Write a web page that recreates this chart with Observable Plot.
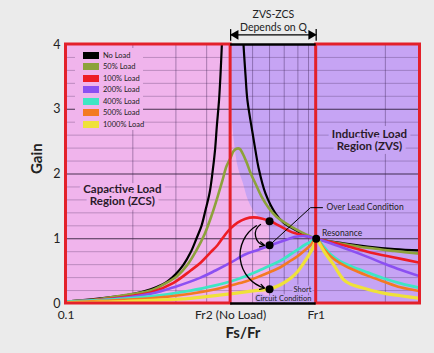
<!DOCTYPE html>
<html><head><meta charset="utf-8">
<script src="https://cdn.jsdelivr.net/npm/d3@7"></script>
<script src="https://cdn.jsdelivr.net/npm/@observablehq/plot@0.6"></script>
<style>
body{margin:0;background:#ebebeb;font-family:Lato,sans-serif;}
#wrap{position:relative;width:434px;height:353px;}
#legend{position:absolute;left:75px;top:48px;width:68px;height:82px;background:#f0b4ec;}
.row{position:absolute;left:8px;height:8px;display:flex;align-items:center;font-size:7.5px;color:#222;white-space:nowrap;}
.sw{width:16px;height:7px;margin-right:4px;}
</style></head><body><div id="wrap"></div>
<script>
// ---- data ----
const seriesNames = ["No Load","50% Load","100% Load","200% Load","400% Load","500% Load","1000% Load"];
const seriesColors = ["#000000","#8da23b","#ee1d25","#8b50f2","#3ee6c4","#f37a22","#efe13a"];
const seriesWidths = [2.2,2.6,2.6,2.6,2.8,2.6,3.2];

const noLoad = [[0.1,0.03],[0.137,0.08],[0.186,0.15],[0.218,0.22],[0.25,0.32],[0.274,0.45],[0.295,0.60],[0.315,0.79],[0.332,1.00],[0.348,1.20],[0.361,1.44],[0.375,1.71],[0.385,2.02],[0.394,2.36],[0.401,2.75],[0.409,3.14],[0.415,3.57],[0.42,4.02],[0.424,4.3],[0.46,NaN],[0.51,4.22],[0.512,4.02],[0.522,3.52],[0.531,3.14],[0.557,2.63],[0.572,2.36],[0.588,2.10],[0.627,1.70],[0.688,1.39],[0.74,1.25],[0.804,1.16],[0.89,1.07],[1,1],[1.286,0.93],[1.603,0.88],[2.056,0.84],[2.6,0.82]];
const load50 = [[0.1,0.03],[0.137,0.07],[0.186,0.15],[0.218,0.20],[0.25,0.31],[0.279,0.43],[0.306,0.60],[0.332,0.82],[0.358,1.07],[0.382,1.36],[0.403,1.64],[0.422,1.90],[0.438,2.12],[0.455,2.25],[0.467,2.35],[0.48,2.39],[0.494,2.39],[0.508,2.32],[0.527,2.18],[0.546,2.02],[0.572,1.85],[0.605,1.65],[0.645,1.48],[0.694,1.34],[0.754,1.24],[0.834,1.14],[0.906,1.07],[1,1],[1.286,0.92],[1.603,0.86],[2.056,0.81],[2.6,0.77]];
const load100 = [[0.1,0.03],[0.137,0.06],[0.186,0.12],[0.218,0.17],[0.269,0.32],[0.315,0.51],[0.345,0.63],[0.378,0.79],[0.403,0.90],[0.434,1.07],[0.455,1.16],[0.485,1.25],[0.522,1.31],[0.562,1.33],[0.61,1.31],[0.657,1.27],[0.72,1.19],[0.79,1.11],[0.89,1.05],[1,1],[1.286,0.90],[1.603,0.80],[2.056,0.71],[2.6,0.63]];
const load200 = [[0.1,0.03],[0.137,0.05],[0.218,0.15],[0.274,0.26],[0.345,0.40],[0.396,0.51],[0.455,0.63],[0.522,0.76],[0.588,0.83],[0.657,0.90],[0.74,0.97],[0.827,1.03],[0.906,1.04],[1,1],[1.141,0.93],[1.371,0.82],[1.603,0.72],[1.858,0.62],[2.173,0.52],[2.6,0.42]];
const load400 = [[0.1,0.03],[0.137,0.05],[0.218,0.11],[0.315,0.20],[0.396,0.28],[0.455,0.34],[0.522,0.42],[0.577,0.49],[0.657,0.59],[0.72,0.66],[0.79,0.76],[0.842,0.83],[0.906,0.91],[0.949,0.95],[1,1],[1.07,0.88],[1.141,0.76],[1.25,0.65],[1.371,0.58],[1.603,0.48],[1.858,0.39],[2.173,0.31],[2.6,0.24]];
const load500 = [[0.1,0.02],[0.137,0.04],[0.218,0.08],[0.315,0.15],[0.396,0.22],[0.455,0.28],[0.522,0.34],[0.577,0.40],[0.657,0.49],[0.72,0.56],[0.79,0.66],[0.842,0.73],[0.906,0.83],[0.949,0.90],[1,1],[1.07,0.85],[1.141,0.73],[1.25,0.62],[1.371,0.54],[1.603,0.43],[1.858,0.34],[2.173,0.25],[2.6,0.19]];
const load1000 = [[0.1,0.015],[0.137,0.02],[0.218,0.05],[0.315,0.08],[0.455,0.15],[0.546,0.19],[0.657,0.23],[0.72,0.29],[0.79,0.39],[0.842,0.49],[0.89,0.62],[0.932,0.74],[0.976,0.88],[1,1],[1.04,0.90],[1.089,0.77],[1.173,0.60],[1.286,0.37],[1.371,0.30],[1.503,0.25],[1.603,0.22],[1.858,0.16],[2.173,0.12],[2.6,0.08]];
const allSeries = [noLoad, load50, load100, load200, load400, load500, load1000];

const fr2 = 0.455, fr1 = 1;
const xDomain = [0.1, 2.6];
const xTickValues = [0.1, fr2, fr1];
const xTickLabels = ["0.1", "Fr2 (No Load)", "Fr1"];
const yTicks = [0, 1, 2, 3, 4];
const yTickLabels = ["0", "1", "2", "3", "4"];
const minorGains = [0.2,0.4,0.6,0.8,1.2,1.4,1.6,1.8,2.2,2.4,2.6,2.8,3.2,3.4,3.6,3.8];
const majorGains = [1, 2, 3];
const vGridX = [0.185,0.275,0.365,0.557,0.651,0.745,0.845,0.932,1.89];

// capacitive shading that spills into the middle region
const wedgeGain = [0, 0.97, 1.20, 1.28, 1.39, 1.59, 1.85, 2.10, 2.63, 2.98, 3.14];
const wedgeX    = [0.651, 0.651, 0.645, 0.616, 0.572, 0.536, 0.512, 0.488, 0.467, 0.46, 0.457];

// annotation points
const dotX = [0.651, 0.651, 0.651, 1];
const dotGain = [1.27, 0.90, 0.22, 1];
const leaderX = [0.651, 0.949, 1.06];
const leaderGain = [0.90, 1.48, 1.48];

// ---- colours ----
const pink = "#f0b4ec", lav = "#c6a4f4", red = "#e3202a";

// ---- build ----
const rows = allSeries.map((pts, i) => pts.map(([x, g]) => ({series: seriesNames[i], x, g})));
const wedge = wedgeGain.map((g, i) => ({g, x: wedgeX[i]}));
const dots = dotX.map((x, i) => ({x, g: dotGain[i]}));
const leader = leaderX.map((x, i) => ({x, g: leaderGain[i]}));
const centerMid = Math.sqrt(fr2 * fr1);

const marks = [
  Plot.rect([{x1: xDomain[0], x2: fr2}], {x1: "x1", x2: "x2", y1: 0, y2: 4, fill: pink}),
  Plot.rect([{x1: fr2, x2: xDomain[1]}], {x1: "x1", x2: "x2", y1: 0, y2: 4, fill: lav}),
  Plot.areaX(wedge, {y: "g", x1: fr2, x2: "x", fill: pink, curve: "catmull-rom"}),
  Plot.ruleY(minorGains, {stroke: "#3a2050", strokeOpacity: 0.28, strokeWidth: 1}),
  Plot.ruleY(majorGains, {stroke: "#1e1028", strokeOpacity: 0.8, strokeWidth: 1.2}),
  Plot.ruleX(vGridX, {stroke: "#3a2050", strokeOpacity: 0.4, strokeWidth: 1}),
  Plot.text(["Capactive Load\nRegion (ZCS)"], {x: 0.168, y: 1.68, fontSize: 11.5, fontWeight: "bold", fill: "#2a1a2a", stroke: pink, strokeWidth: 8, lineHeight: 1.05}),
  Plot.text(["Inductive Load\nRegion (ZVS)"], {x: 1.633, y: 2.52, fontSize: 11.5, fontWeight: "bold", fill: "#2a1a2a", stroke: lav, strokeWidth: 8, lineHeight: 1.05}),
  Plot.text(["Short", "Circuit Condition"], {x: 0.957, y: (d, i) => [0.215, 0.075][i], textAnchor: "end", fontSize: 7.5, fill: "#222", stroke: lav, strokeWidth: 3}),
  ...allSeries.map((_, i) => Plot.line(rows[i], {x: "x", y: "g", stroke: seriesColors[i], strokeWidth: seriesWidths[i], curve: "catmull-rom", clip: true})),
  Plot.rect([{x1: xDomain[0], x2: fr2}, {x1: fr1, x2: xDomain[1]}], {x1: "x1", x2: "x2", y1: 0, y2: 4, fill: "none", stroke: red, strokeWidth: 3}),
  Plot.ruleY([0, 4], {x1: fr2, x2: fr1, stroke: "#000", strokeWidth: 2.4}),
  // ZVS-ZCS bracket
  Plot.ruleY([4.15], {x1: fr2, x2: fr1, stroke: "#000", strokeWidth: 1.3}),
  Plot.ruleX([fr2, fr1], {y1: 4.05, y2: 4.23, stroke: "#000", strokeWidth: 1.3}),
  Plot.dot([fr2], {x: d => d, y: 4.15, symbol: "triangle", r: 3.6, fill: "#000", rotate: -90, dx: 5}),
  Plot.dot([fr1], {x: d => d, y: 4.15, symbol: "triangle", r: 3.6, fill: "#000", rotate: 90, dx: -5}),
  Plot.text(["ZVS-ZCS", "Depends on Q"], {x: centerMid, y: (d, i) => [4.46, 4.26][i], fontSize: 10.5, fill: "#222"}),
  // annotations
  Plot.line(leader, {x: "x", y: "g", stroke: "#000", strokeWidth: 1}),
  Plot.arrow([{x1: 0.599, y1: 1.22, x2: 0.651, y2: 0.90}], {x1: "x1", y1: "y1", x2: "x2", y2: "y2", bend: -80, stroke: "#000", strokeWidth: 1.3, headLength: 6, insetEnd: 5}),
  Plot.arrow([{x1: 0.577, y1: 1.20, x2: 0.651, y2: 0.22}], {x1: "x1", y1: "y1", x2: "x2", y2: "y2", bend: -70, stroke: "#000", strokeWidth: 1.3, headLength: 6, insetEnd: 5}),
  Plot.dot(dots, {x: "x", y: "g", r: 4, fill: "#000"}),
  Plot.text(["Over Lead Condition"], {x: 1.10, y: 1.48, textAnchor: "start", fontSize: 8.5, fill: "#222", stroke: lav, strokeWidth: 3}),
  Plot.text(["Resonance"], {x: 1.054, y: 1.08, textAnchor: "start", fontSize: 8.5, fill: "#222", stroke: lav, strokeWidth: 3}),
  // axes
  Plot.axisY({ticks: yTicks, tickFormat: d => yTickLabels[yTicks.indexOf(d)], tickSize: 0, tickPadding: 5.5, label: null, fontSize: 12.5}),
  Plot.axisX({ticks: xTickValues, tickFormat: d => xTickLabels[xTickValues.indexOf(d)], tickSize: 0, tickPadding: 7, label: null, fontSize: 12}),
  Plot.text(["Gain"], {frameAnchor: "left", dx: -28.5, rotate: -90, fontSize: 15, fontWeight: "bold", fill: "#222"}),
  Plot.text(["Fs/Fr"], {frameAnchor: "bottom", dy: 34, fontSize: 15, fontWeight: "bold", fill: "#222"})
];

const chart = Plot.plot({
  width: 434, height: 353,
  marginTop: 44, marginBottom: 50, marginLeft: 65.5, marginRight: 14.5,
  x: {type: "log", domain: xDomain},
  y: {domain: [0, 4]},
  style: {background: "transparent", fontFamily: "Lato, sans-serif", fontSize: "12px", color: "#222"},
  marks
});
const wrap = document.getElementById("wrap");
wrap.appendChild(chart);

// legend
const legend = document.createElement("div");
legend.id = "legend";
seriesNames.forEach((name, i) => {
  const r = document.createElement("div");
  r.className = "row";
  r.style.top = (3 + i * 11.5) + "px";
  r.innerHTML = `<span class="sw" style="background:${seriesColors[i]}"></span><span>${name}</span>`;
  legend.appendChild(r);
});
wrap.appendChild(legend);
</script>
</body></html>
